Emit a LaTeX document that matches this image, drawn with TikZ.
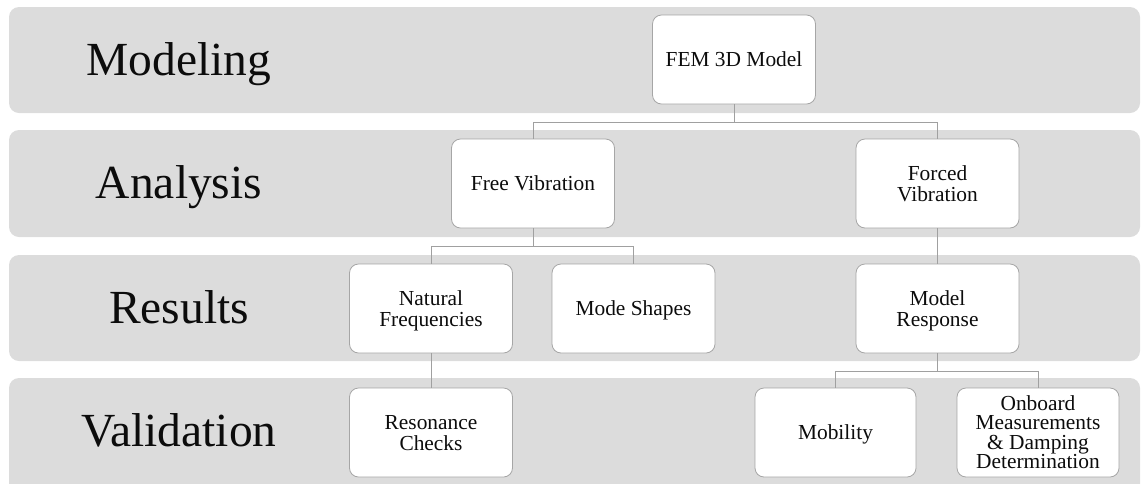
\documentclass[tikz,border=0pt]{standalone}
\usepackage{fontspec}
\setmainfont{Liberation Serif}
\definecolor{bandgray}{RGB}{220,220,220}
\definecolor{boxline}{RGB}{166,166,166}
\definecolor{conn}{RGB}{160,160,160}
\definecolor{txt}{RGB}{12,12,12}
\newcommand\topstr{\rule{0pt}{0.891em}}
\newcommand\botstr{\rule[-0.216em]{0pt}{0pt}}
\begin{document}
\begin{tikzpicture}[x=1pt,y=-1pt,
  band/.style={fill=bandgray, draw=none, rounded corners=10pt},
  lab/.style={font=\fontsize{47.5}{50}\selectfont, text=txt, anchor=base, inner sep=0pt},
  box/.style={draw=boxline, fill=white, line width=0.8pt, rounded corners=9pt,
    minimum width=163pt, minimum height=89pt, inner sep=0pt, align=center,
    text=txt, font=\fontsize{21.4}{21}\selectfont},
  tightbox/.style={box, font=\fontsize{21.4}{19.5}\selectfont},
  link/.style={draw=conn, line width=0.9pt}]
\useasboundingbox (0,0) rectangle (1141,483);
% bands
\fill[band] (9,7) rectangle (1140,113);
\fill[band] (9,130) rectangle (1140,237);
\fill[band] (9,255) rectangle (1140,361);
\fill[band] (9,378) rectangle (1140,496);
% band labels
\node[lab] (lmod) at (179,75) {Modeling};
\node[lab] (lana) at (179,198.5) {Analysis};
\node[lab] (lres) at (179,323) {Results};
\node[lab] (lval) at (179,446.5) {Validation};
% boxes
\node[box] (fem) at (734,59.5) {\topstr FEM 3D Model\botstr};
\node[box] (free) at (533,183.5) {\topstr Free Vibration\botstr};
\node[box] (forced) at (937.5,183.5) {\topstr Forced\\Vibration\botstr};
\node[box] (natural) at (431,308.5) {\topstr Natural\\Frequencies\botstr};
\node[box] (mode) at (633.5,308.5) {\topstr Mode Shapes\botstr};
\node[box] (response) at (937.5,308.5) {\topstr Model\\Response\botstr};
\node[box] (resonance) at (431,432.5) {\topstr Resonance\\Checks\botstr};
\node[box, minimum width=161pt] (mobility) at (835.5,432.5) {\topstr Mobility\botstr};
\node[tightbox, minimum width=162pt] (onboard) at (1038,432.5) {\topstr Onboard\\Measurements\\\&~Damping\\Determination\botstr};
% junctions
\coordinate (j1) at (734,122);
\coordinate (j2) at (533,246);
\coordinate (j3) at (937.5,371);
% connectors
\draw[link] (fem.south) -- (j1);
\draw[link] (j1) -| (free.north);
\draw[link] (j1) -| (forced.north);
\draw[link] (free.south) -- (j2);
\draw[link] (j2) -| (natural.north);
\draw[link] (j2) -| (mode.north);
\draw[link] (forced.south) -- (response.north);
\draw[link] (natural.south) -- (resonance.north);
\draw[link] (response.south) -- (j3);
\draw[link] (j3) -| (mobility.north);
\draw[link] (j3) -| (onboard.north);
\end{tikzpicture}
\end{document}
